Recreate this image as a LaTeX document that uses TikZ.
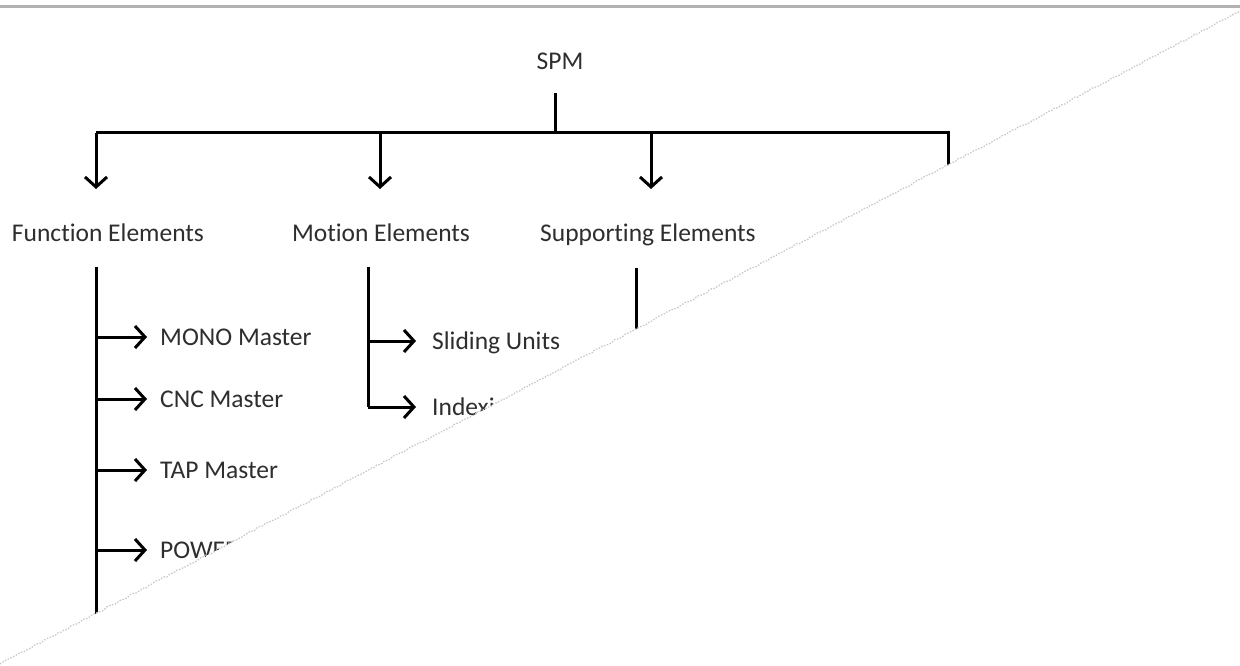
\documentclass[tikz,border=0pt]{standalone}
\usepackage{fontspec}
\setmainfont{Carlito}[Ligatures=NoCommon]
\usetikzlibrary{arrows.meta,decorations.pathmorphing}
\begin{document}
\begin{tikzpicture}[x=1pt,y=-1pt,
  lbl/.style={font=\fontsize{25.5}{30}\selectfont, text=black!82, inner sep=0pt, anchor=base},
  item/.style={lbl, anchor=base west},
  wire/.style={line width=3pt, black},
  tip/.style={wire, -{Straight Barb[length=10pt,width=22pt,line width=3pt]}}]
\useasboundingbox (0,0) rectangle (1240,666);
\fill[white] (0,0) rectangle (1240,666);
% rule across the top of the page
\draw[line width=3pt, black!30] (0,7) -- (1240,7);

\begin{scope}
  % the page is torn away below this edge
  \clip (0,0) -- (1240,0) -- (1240,11) -- (0,664) -- cycle;

  % root and its bus
  \node[lbl] (spm) at (560,70) {SPM};
  \coordinate (stemtop) at (555,93);
  \coordinate (bus) at (555,133);
  \coordinate (busL) at (96,133);
  \coordinate (busM) at (380,133);
  \coordinate (busS) at (651,133);
  \coordinate (busR) at (948,133);
  \coordinate (endR) at (948,230);
  \draw[wire] (stemtop) -- (bus);
  \draw[wire, line join=miter] (busL) -- (busR) -- (endR);

  % second level
  \node[lbl] (fe) at (108,241) {Function Elements};
  \node[lbl] (me) at (381,241) {Motion Elements};
  \node[lbl] (se) at (648,241) {Supporting Elements};
  \coordinate (feIn) at (96,189);
  \coordinate (meIn) at (380,189);
  \coordinate (seIn) at (651,189);
  \draw[tip] (busL) -- (feIn);
  \draw[tip] (busM) -- (meIn);
  \draw[tip] (busS) -- (seIn);

  % function elements
  \coordinate (feTop) at (96,267);
  \coordinate (feBot) at (96,660);
  \draw[wire] (feTop) -- (feBot);
  \node[item] (mono) at (160,345) {MONO Master};
  \node[item] (cnc)  at (160,407) {CNC Master};
  \node[item] (tap)  at (160,478) {TAP Master};
  \node[item] (pow)  at (160,558) {POWER};
  \foreach \n/\y in {mono/337, cnc/399, tap/470, pow/550}{
    \coordinate (\n J) at (96,\y);
    \coordinate (\n T) at (147,\y);
    \draw[tip] (\n J) -- (\n T);
  }

  % motion elements
  \coordinate (meTop) at (368,267);
  \coordinate (slJ) at (368,341);
  \coordinate (ixJ) at (368,407);
  \coordinate (slT) at (416,341);
  \coordinate (ixT) at (416,407);
  \node[item] (sl) at (432,349) {Sliding Units};
  \node[item] (ix) at (432,415) {Indexing};
  \draw[wire] (meTop) -- (ixJ);
  \draw[tip] (slJ) -- (slT);
  \draw[tip, line join=miter] (ixJ) -- (ixT);

  % supporting elements
  \coordinate (seTop) at (636,268);
  \coordinate (seBot) at (636,420);
  \draw[wire] (seTop) -- (seBot);
\end{scope}

% ragged torn edge
\draw[black!22, line width=1.2pt, dash pattern=on 1.5pt off 1.5pt,
      decorate, decoration={random steps, segment length=3pt, amplitude=0.8pt}]
  (0,664) -- (1240,11);
\end{tikzpicture}
\end{document}
